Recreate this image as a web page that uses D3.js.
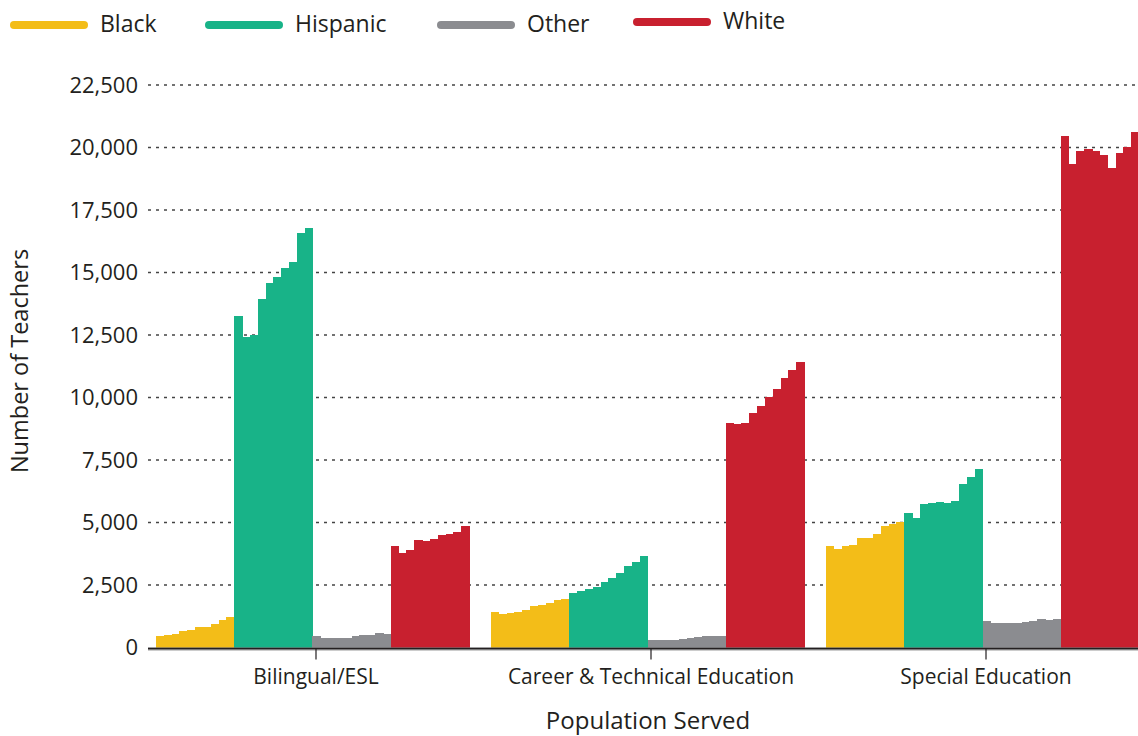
<!DOCTYPE html>
<html>
<head>
<meta charset="utf-8">
<script src="https://cdn.jsdelivr.net/npm/d3@7"></script>
<style>
  body { margin: 0; background: #fff; }
  svg { display: block; }
  text { font-family: "Open Sans", "Noto Sans", sans-serif; fill: #231f20; }
</style>
</head>
<body>
<svg id="chart" width="1138" height="736"></svg>
<script>
// ---- data ----
const categories = ["Bilingual/ESL", "Career & Technical Education", "Special Education"];
const groups = ["Black", "Hispanic", "Other", "White"];
const groupColors = ["#F3BD18", "#18B388", "#8B8C90", "#C8202F"];
const periods = ["1", "2", "3", "4", "5", "6", "7", "8", "9", "10"];
const yTicks = [0, 2500, 5000, 7500, 10000, 12500, 15000, 17500, 20000, 22500];

// one inner array per category, one value per period
const black = [
  [480, 520, 560, 680, 720, 840, 840, 960, 1120, 1240],
  [1440, 1360, 1400, 1440, 1520, 1680, 1720, 1800, 1920, 1960],
  [4050, 3930, 4050, 4090, 4400, 4400, 4560, 4850, 4930, 5010]
];
const hispanic = [
  [13270, 12430, 12510, 13950, 14600, 14840, 15200, 15440, 16600, 16800],
  [2200, 2250, 2330, 2410, 2610, 2770, 2970, 3250, 3410, 3650],
  [5400, 5170, 5760, 5800, 5840, 5800, 5880, 6560, 6840, 7150]
];
const other = [
  [480, 400, 400, 400, 400, 480, 520, 520, 600, 560],
  [320, 320, 320, 320, 360, 400, 440, 480, 480, 480],
  [1080, 1000, 1000, 1000, 1000, 1040, 1080, 1160, 1120, 1160]
];
const white = [
  [4050, 3770, 3890, 4290, 4250, 4330, 4490, 4530, 4610, 4850],
  [8980, 8940, 8980, 9380, 9660, 10030, 10350, 10790, 11110, 11430],
  [20450, 19330, 19850, 19930, 19850, 19690, 19170, 19770, 20010, 20610]
];
const seriesValues = [black, hispanic, other, white];

// ---- layout ----
const svg = d3.select("#chart");
const plotLeft = 148, plotRight = 1138;
const y = d3.scaleLinear().domain([0, 22500]).range([647.5, 85]);

const x0 = d3.scaleBand().domain(categories).range([156, 1139]).paddingInner(0.0657).paddingOuter(0);
const x1 = d3.scaleBand().domain(groups).range([0, x0.bandwidth()]).padding(0);
const x2 = d3.scaleBand().domain(periods).range([0, x1.bandwidth()]).padding(0);

// gridlines
svg.append("g").selectAll("line")
  .data(yTicks.filter(d => d > 0))
  .join("line")
  .attr("x1", plotLeft).attr("x2", plotRight)
  .attr("y1", d => y(d)).attr("y2", d => y(d))
  .attr("stroke", "#444")
  .attr("stroke-width", 1.6)
  .attr("stroke-dasharray", "3,5");

// bars
const rows = [];
categories.forEach((c, ci) => {
  groups.forEach((g, gi) => {
    periods.forEach((p, pi) => {
      rows.push({ c, g, p, gi, v: seriesValues[gi][ci][pi] });
    });
  });
});
svg.append("g").attr("shape-rendering", "crispEdges").selectAll("rect")
  .data(rows)
  .join("rect")
  .attr("x", d => x0(d.c) + x1(d.g) + x2(d.p))
  .attr("width", x2.bandwidth() + 0.6)
  .attr("y", d => y(d.v))
  .attr("height", d => y(0) - y(d.v))
  .attr("fill", d => groupColors[d.gi]);

// y axis labels
const yAxis = d3.axisLeft(y).tickValues(yTicks).tickSize(0).tickPadding(0)
  .tickFormat(d3.format(","));
const yG = svg.append("g").attr("transform", "translate(138,0)").call(yAxis);
yG.select(".domain").remove();
yG.selectAll("text").style("font-size", "22px").attr("fill", "#231f20")
  .style("font-family", '"Open Sans", sans-serif');

// x axis
svg.append("line").attr("x1", plotLeft).attr("x2", plotRight)
  .attr("y1", 649).attr("y2", 649).attr("stroke", "#9a9a9a").attr("stroke-width", 3);
svg.append("line").attr("x1", plotLeft).attr("x2", plotRight)
  .attr("y1", 648.5).attr("y2", 648.5).attr("stroke", "#231f20").attr("stroke-width", 1.6);

const xAxis = d3.axisBottom(x0).tickSize(11).tickPadding(10);
const xG = svg.append("g").attr("transform", "translate(3.5,648.5)").call(xAxis);
xG.select(".domain").remove();
xG.selectAll(".tick line").attr("stroke", "#231f20").attr("stroke-width", 1.2);
xG.selectAll("text").style("font-size", "21px").attr("fill", "#231f20")
  .style("font-family", '"Open Sans", sans-serif');

// axis titles
svg.append("text")
  .attr("transform", "translate(28,361) rotate(-90)")
  .attr("text-anchor", "middle")
  .style("font-size", "23.5px")
  .text("Number of Teachers");

svg.append("text")
  .attr("x", 648).attr("y", 729)
  .attr("text-anchor", "middle")
  .style("font-size", "24px")
  .text("Population Served");

// legend
const legendX = [10, 205, 437, 633];
const legendDy = [0, 0, 0, -3];
const lg = svg.append("g").selectAll("g")
  .data(groups)
  .join("g")
  .attr("transform", (d, i) => `translate(${legendX[i]},${25 + legendDy[i]})`);
lg.append("line")
  .attr("x1", 4).attr("x2", 74).attr("y1", 0).attr("y2", 0)
  .attr("stroke", (d, i) => groupColors[i])
  .attr("stroke-width", 8)
  .attr("stroke-linecap", "round");
lg.append("text")
  .attr("x", 90).attr("y", 7)
  .style("font-size", "23px")
  .text(d => d);
</script>
</body>
</html>
